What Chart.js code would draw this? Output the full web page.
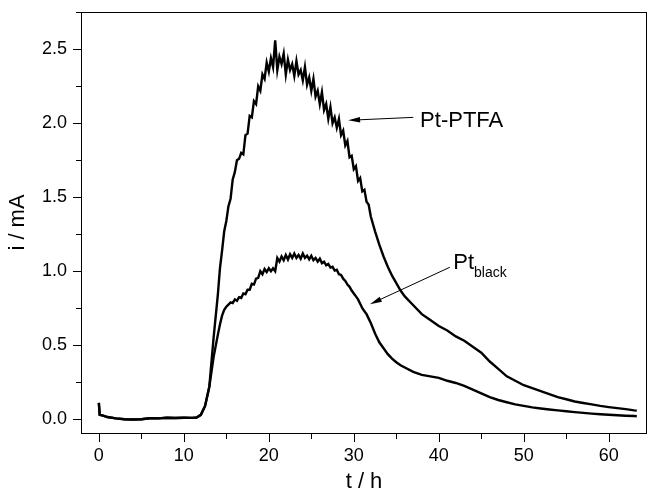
<!DOCTYPE html>
<html>
<head>
<meta charset="utf-8">
<script src="https://cdn.jsdelivr.net/npm/chart.js@4"></script>
<style>
  html, body { margin: 0; padding: 0; background: #fff; }
  #wrap { width: 651px; height: 492px; }
</style>
</head>
<body>
<div id="wrap"><canvas id="chart" width="651" height="492"></canvas></div>
<script>
// time axis (h), shared by both curves
const hours = [
  0, 0.1, 0.5, 1, 2, 3, 4, 5, 6, 7, 8, 9, 10, 11, 11.5, 12, 12.5, 13, 13.5,
  14, 14.25, 14.5, 14.75, 15, 15.25, 15.5, 15.75, 16, 16.25, 16.5, 16.75,
  17, 17.25, 17.5, 17.75, 18, 18.25, 18.5, 18.75, 19, 19.25, 19.5, 19.75,
  20, 20.25, 20.5, 20.75, 21, 21.25, 21.5, 21.75, 22, 22.25, 22.5, 22.75,
  23, 23.25, 23.5, 23.75, 24, 24.25, 24.5, 24.75, 25, 25.25, 25.5, 25.75,
  26, 26.25, 26.5, 26.75, 27, 27.25, 27.5, 27.75, 28, 28.25, 28.5, 28.75,
  29, 29.25, 29.5, 29.75, 30, 30.25, 30.5, 30.75, 31, 31.25, 31.5, 31.75, 32,
  32.5, 33, 33.5, 34, 34.5, 35, 35.5, 36, 37, 38, 39, 40, 41, 42, 43, 44, 45,
  46, 47, 48, 49, 50, 51, 52, 53, 54, 55, 56, 57, 58, 59, 60, 61, 62, 63, 63.3
];

// current (mA), Pt-PTFA electrode
const ptPtfa = [
  0.11, 0.03, 0.025, 0.015, 0.006, 0.0, -0.002, 0.0, 0.007, 0.006, 0.01, 0.008, 0.01, 0.009, 0.012, 0.03, 0.09, 0.22, 0.55,
  0.84, 1.02, 1.14, 1.27, 1.34, 1.44, 1.49, 1.62, 1.67, 1.75, 1.76, 1.80,
  1.79, 1.92, 1.93, 2.05, 2.04, 2.15, 2.13, 2.25, 2.22, 2.33, 2.30, 2.41,
  2.35, 2.44, 2.38, 2.56, 2.36, 2.45, 2.40, 2.47, 2.33, 2.43, 2.36, 2.40,
  2.32, 2.42, 2.33, 2.36, 2.29, 2.38, 2.26, 2.31, 2.22, 2.30, 2.18, 2.22,
  2.13, 2.21, 2.09, 2.13, 2.03, 2.11, 2.00, 2.04, 1.97, 2.03, 1.92, 1.95,
  1.85, 1.88, 1.77, 1.78, 1.69, 1.71, 1.61, 1.63, 1.54, 1.55, 1.47, 1.45, 1.37,
  1.27, 1.18, 1.10, 1.03, 0.97, 0.92, 0.87, 0.83, 0.77, 0.71, 0.67, 0.63, 0.60, 0.56, 0.53, 0.49, 0.45,
  0.39, 0.34, 0.29, 0.26, 0.23, 0.21, 0.19, 0.17, 0.15, 0.135, 0.12, 0.11, 0.10, 0.09, 0.082, 0.075, 0.068, 0.06, 0.058
];

// current (mA), Pt black electrode
const ptBlack = [
  0.11, 0.03, 0.025, 0.015, 0.006, 0.0, -0.002, 0.0, 0.007, 0.006, 0.01, 0.008, 0.01, 0.009, 0.012, 0.03, 0.09, 0.22, 0.42,
  0.57, 0.64, 0.70, 0.74, 0.76, 0.775, 0.79, 0.785, 0.81, 0.80, 0.825, 0.82,
  0.85, 0.845, 0.875, 0.875, 0.915, 0.91, 0.95, 0.955, 1.00, 0.98, 1.015, 0.995,
  1.02, 1.0, 1.02, 1.00, 1.09, 1.065, 1.10, 1.075, 1.11, 1.08, 1.115, 1.09,
  1.12, 1.09, 1.11, 1.085, 1.12, 1.09, 1.105, 1.08, 1.105, 1.075, 1.09, 1.065,
  1.085, 1.055, 1.065, 1.04, 1.05, 1.025, 1.03, 1.005, 1.01, 0.98, 0.975, 0.95,
  0.935, 0.91, 0.895, 0.87, 0.85, 0.83, 0.81, 0.78, 0.75, 0.73, 0.71, 0.68, 0.65,
  0.58, 0.52, 0.48, 0.44, 0.41, 0.385, 0.365, 0.35, 0.32, 0.30, 0.29, 0.28, 0.26, 0.245, 0.225, 0.20, 0.175,
  0.15, 0.13, 0.115, 0.10, 0.09, 0.08, 0.073, 0.066, 0.06, 0.054, 0.048, 0.043, 0.038, 0.034, 0.03, 0.027, 0.024, 0.022, 0.02
];

const xTitle = "t / h";
const yTitle = "i / mA";
const fontFamily = "'Liberation Sans', Arial, sans-serif";

function toPoints(ys) {
  return hours.map((t, i) => ({ x: t, y: ys[i] }));
}

function isMajor(v, step) {
  const r = v / step;
  return Math.abs(r - Math.round(r)) < 1e-6;
}

function arrow(ctx, x1, y1, x2, y2) {
  // line from (x1,y1) to tip (x2,y2) with filled head
  const ang = Math.atan2(y2 - y1, x2 - x1);
  const len = 12, half = 2.8;
  ctx.beginPath();
  ctx.moveTo(x1, y1);
  ctx.lineTo(x2 - Math.cos(ang) * len * 0.8, y2 - Math.sin(ang) * len * 0.8);
  ctx.stroke();
  ctx.beginPath();
  ctx.moveTo(x2, y2);
  ctx.lineTo(x2 - Math.cos(ang) * len - Math.sin(ang) * half, y2 - Math.sin(ang) * len + Math.cos(ang) * half);
  ctx.lineTo(x2 - Math.cos(ang) * len + Math.sin(ang) * half, y2 - Math.sin(ang) * len - Math.cos(ang) * half);
  ctx.closePath();
  ctx.fill();
}

// frame, tick marks and the two labels with arrows
const decorations = {
  id: "decorations",
  afterDraw(chart) {
    const { ctx, chartArea: a, scales } = chart;
    const xs = scales.x, ys = scales.y;
    ctx.save();
    ctx.strokeStyle = "#000";
    ctx.fillStyle = "#000";
    ctx.lineWidth = 1;
    ctx.strokeRect(a.left + 0.5, a.top + 0.5, a.right - a.left - 1, a.bottom - a.top);

    xs.ticks.forEach((tk) => {
      const px = Math.round(xs.getPixelForValue(tk.value)) + 0.5;
      const len = isMajor(tk.value, 10) ? 9 : 6;
      ctx.beginPath();
      ctx.moveTo(px, a.bottom);
      ctx.lineTo(px, a.bottom + len);
      ctx.stroke();
    });
    ys.ticks.forEach((tk) => {
      const py = Math.round(ys.getPixelForValue(tk.value)) + 0.5;
      const len = isMajor(tk.value, 0.5) ? 8 : 5;
      ctx.beginPath();
      ctx.moveTo(a.left, py);
      ctx.lineTo(a.left - len, py);
      ctx.stroke();
    });

    // Pt-PTFA label
    arrow(ctx, xs.getPixelForValue(37.0), ys.getPixelForValue(2.04),
      xs.getPixelForValue(29.33), ys.getPixelForValue(2.02));
    ctx.font = "22px " + fontFamily;
    ctx.textBaseline = "alphabetic";
    ctx.textAlign = "left";
    ctx.fillText("Pt-PTFA", xs.getPixelForValue(37.8), ys.getPixelForValue(1.976));

    // Pt black label
    arrow(ctx, xs.getPixelForValue(41.3), ys.getPixelForValue(1.027),
      xs.getPixelForValue(31.9), ys.getPixelForValue(0.777));
    const bx = xs.getPixelForValue(41.7);
    const by = ys.getPixelForValue(1.013);
    ctx.font = "22px " + fontFamily;
    ctx.fillText("Pt", bx, by);
    const w = ctx.measureText("Pt").width;
    ctx.font = "14px " + fontFamily;
    ctx.fillText("black", bx + w, by + 8);
    ctx.restore();
  },
};

const ctx = document.getElementById("chart").getContext("2d");
new Chart(ctx, {
  type: "line",
  data: {
    datasets: [
      {
        label: "Pt-PTFA",
        data: toPoints(ptPtfa),
        borderColor: "#000",
        borderWidth: 2.4,
        pointRadius: 0,
        tension: 0,
      },
      {
        label: "Pt black",
        data: toPoints(ptBlack),
        borderColor: "#000",
        borderWidth: 2.4,
        pointRadius: 0,
        tension: 0,
      },
    ],
  },
  options: {
    responsive: false,
    animation: false,
    layout: { padding: { top: 12, right: 4, left: 0, bottom: 0 } },
    plugins: { legend: { display: false }, tooltip: { enabled: false } },
    scales: {
      x: {
        type: "linear",
        min: -2.1,
        max: 64.5,
        grid: { display: false, drawTicks: false },
        border: { display: false },
        ticks: {
          stepSize: 5,
          includeBounds: false,
          autoSkip: false,
          maxRotation: 0,
          padding: 12,
          color: "#000",
          font: { family: fontFamily, size: 18 },
          callback: (v) => (isMajor(v, 10) ? String(v) : ""),
        },
        title: {
          display: true,
          text: xTitle,
          color: "#000",
          font: { family: fontFamily, size: 22 },
          padding: { top: 0, bottom: -3 },
        },
        afterFit: (scale) => {
          scale.height = 59;
          scale.paddingLeft = 0;
          scale.paddingRight = 0;
        },
      },
      y: {
        type: "linear",
        min: -0.093,
        max: 2.752,
        grid: { display: false, drawTicks: false },
        border: { display: false },
        ticks: {
          stepSize: 0.25,
          includeBounds: false,
          autoSkip: false,
          padding: 14,
          color: "#000",
          font: { family: fontFamily, size: 18 },
          callback: (v) => (isMajor(v, 0.5) ? v.toFixed(1) : ""),
        },
        title: {
          display: true,
          text: yTitle,
          color: "#000",
          font: { family: fontFamily, size: 22 },
          padding: { top: 5, bottom: 0 },
        },
        afterFit: (scale) => {
          scale.width = 81;
          scale.paddingTop = 0;
          scale.paddingBottom = 0;
        },
      },
    },
  },
  plugins: [decorations],
});
</script>
</body>
</html>
